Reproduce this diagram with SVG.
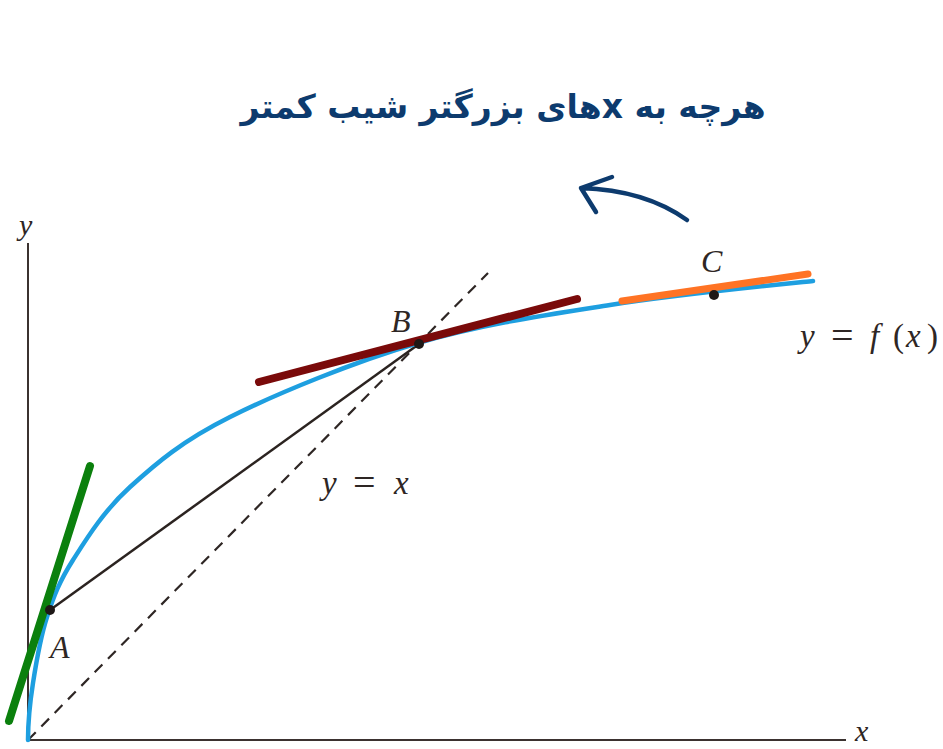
<svg xmlns="http://www.w3.org/2000/svg" width="943" height="749" viewBox="0 0 943 749">
<style>
.lbl{font-family:"Liberation Serif","DejaVu Serif",serif;font-style:italic;fill:#2e2624;}
.op{font-family:"Liberation Serif","DejaVu Serif",serif;font-style:normal;fill:#2e2624;}
.eq{font-size:40px;}
.hand{font-family:"DejaVu Sans","Noto Sans",sans-serif;font-weight:bold;fill:#0d3b6e;}
.axis{stroke:#3b3230;stroke-width:2;fill:none;}
.tan{stroke-linecap:round;fill:none;}
.pt{fill:#1e1816;}
</style>
<rect width="943" height="749" fill="#ffffff"/>
<g id="annotation">
<text class="hand" x="503" y="118" font-size="33" text-anchor="middle" direction="rtl">هرچه به xهای بزرگتر شیب کمتر</text>
<path d="M687,220 Q645,190 581,188 M612,177 L581,188 L596,212" stroke="#0d3b6e" stroke-width="4.5" fill="none" stroke-linecap="round" stroke-linejoin="round"/>
</g>
<g id="axes">
<line class="axis" x1="28" y1="243" x2="28" y2="740"/>
<line class="axis" x1="28" y1="740" x2="846" y2="740"/>
<text class="lbl" x="19" y="235" font-size="30">y</text>
<text class="lbl" x="855" y="741" font-size="30">x</text>
</g>
<g id="connectors">
<line x1="28" y1="740" x2="488" y2="273" stroke="#2e2624" stroke-width="2.2" stroke-dasharray="11 8"/>
<line x1="50" y1="610" x2="419" y2="344" stroke="#2b2320" stroke-width="2.5"/>
</g>
<g id="curve">
<path fill="none" stroke="#1e9fe0" stroke-width="4.5" stroke-linecap="round" d="M28,740 C28,720 29.8,703.5 33,683 C36.2,662.5 40.3,637.5 47,617 C53.7,596.5 59.2,581.7 73,560 C86.8,538.3 103.8,510.8 130,487 C156.2,463.2 182,441 230,417 C278,393 354.7,361.7 418,343 C481.3,324.3 544.2,315.3 610,305 C675.8,294.7 779,284.5 813,281"/>
<text class="lbl" font-size="33" y="347"><tspan x="800">y</tspan><tspan class="op eq" x="831" y="349">=</tspan><tspan x="870" y="347">f</tspan><tspan class="op" x="893">(</tspan><tspan x="906">x</tspan><tspan class="op" x="927">)</tspan></text>
</g>
<g id="tangent-A">
<line class="tan" x1="9" y1="721" x2="90" y2="466" stroke="#0b800d" stroke-width="8"/>
</g>
<g id="tangent-B">
<line class="tan" x1="259" y1="382" x2="577" y2="299" stroke="#7a0a0a" stroke-width="8"/>
</g>
<g id="tangent-C">
<line class="tan" x1="622" y1="301" x2="808" y2="274" stroke="#ff7324" stroke-width="7"/>
</g>
<g id="point-A">
<circle class="pt" cx="50" cy="610" r="5"/>
<text class="lbl" x="50" y="658" font-size="32">A</text>
</g>
<g id="point-B">
<circle class="pt" cx="419" cy="344" r="5"/>
<text class="lbl" x="391" y="332" font-size="32">B</text>
</g>
<g id="point-C">
<circle class="pt" cx="714" cy="295" r="5"/>
<text class="lbl" x="701" y="272" font-size="32">C</text>
</g>
<g id="label-yx">
<text class="lbl" font-size="33" y="494"><tspan x="322">y</tspan><tspan class="op eq" x="353" y="496">=</tspan><tspan x="394" y="494">x</tspan></text>
</g>
</svg>
